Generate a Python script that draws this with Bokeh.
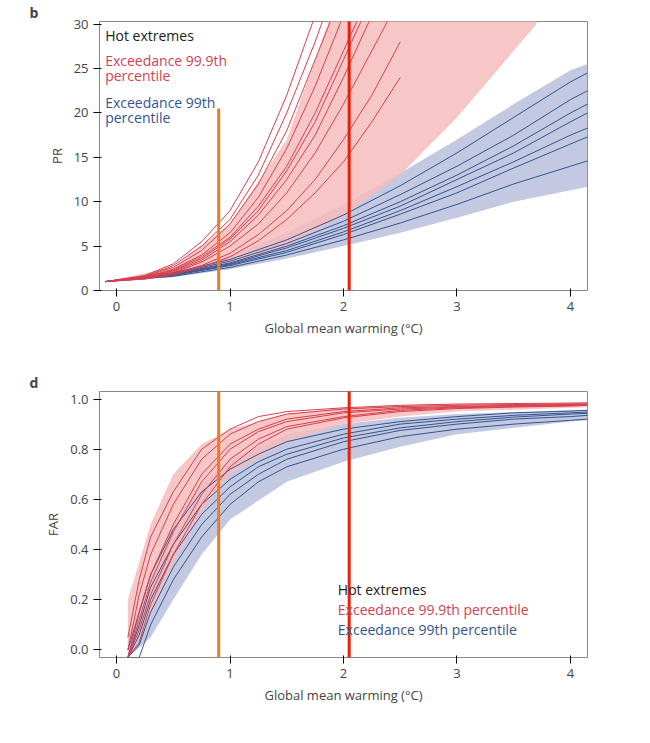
from bokeh.plotting import figure
from bokeh.layouts import column
from bokeh.models import Label, Range1d, CustomJSTickFormatter
from bokeh.embed import file_html
from bokeh.resources import INLINE

RED = "#d6404e"; RED_BAND = "#f6bcbc"
BLUE = "#34548f"; BLUE_BAND = "#b9c0da"
FONT = "Open Sans"

# ---- Panel b: PR ----
pr_red_x = [-0.1, 0.25, 0.5, 0.75, 1.0, 1.25, 1.5, 1.75, 2.0, 2.25, 2.5]
pr_red = [
    [1, 1.5, 2.3, 3.8, 6, 9.5, 14, 20, 27, 34, 40],
    [1, 1.6, 2.6, 4.5, 7.5, 12, 18, 26, 34, 40, 45],
    [1, 1.4, 2.0, 3.2, 5, 7.5, 11, 15.5, 21, 27, 33],
    [1, 1.7, 3, 5.5, 9, 14.5, 22, 31, 40, 45, 50],
    [1, 1.3, 1.9, 2.8, 4.2, 6.3, 9, 12.5, 17, 22, 28],
    [1, 1.5, 2.4, 4, 6.5, 10.5, 16, 23, 31, 38, 44],
    [1, 1.4, 2.1, 3.4, 5.5, 8.5, 12.5, 17.5, 24, 31, 38],
    [1, 1.6, 2.8, 5, 8, 13, 20, 28, 37, 43, 48],
    [1, 1.3, 1.8, 2.6, 3.8, 5.6, 8, 11, 14.5, 19, 24],
    [1, 1.45, 2.2, 3.6, 5.8, 9, 13.5, 19, 26, 33, 39],
]
pr_blue_x = [-0.1, 0.5, 1.0, 1.5, 2.0, 2.5, 3.0, 3.5, 4.0, 4.15]
pr_blue = [
    [1, 1.8, 3, 4.8, 7, 9.5, 12.5, 15.5, 19, 20],
    [1, 1.7, 2.8, 4.3, 6.3, 8.6, 11, 13.8, 16.5, 17.3],
    [1, 1.9, 3.3, 5.3, 7.8, 10.8, 14, 17.5, 21.5, 22.5],
    [1, 1.6, 2.6, 4, 5.7, 7.6, 9.7, 12, 14, 14.6],
    [1, 2, 3.5, 5.7, 8.5, 11.8, 15.5, 19.5, 23.5, 24.5],
    [1, 1.75, 2.9, 4.5, 6.6, 9, 11.7, 14.5, 17.5, 18.3],
    [1, 1.85, 3.1, 5, 7.3, 10, 13, 16.3, 20, 21],
]
pr_red_band_x = [-0.1, 0.5, 1.0, 1.5, 2.0, 2.5, 3.0, 3.5, 3.7]
pr_red_band_lo = [1, 1.6, 2.8, 5, 8.5, 13, 19.5, 27, 30]
pr_red_band_hi = [1, 2.6, 7.5, 17, 35, 45, 55, 60, 62]
pr_blue_band_x = [-0.1, 0.5, 1.0, 1.5, 2.0, 2.5, 3.0, 3.5, 4.0, 4.15]
pr_blue_band_lo = [1, 1.5, 2.4, 3.6, 5, 6.5, 8.2, 10, 11.3, 11.7]
pr_blue_band_hi = [1, 2.1, 3.9, 6.5, 9.7, 13.2, 17, 21, 24.8, 25.5]

# ---- Panel d: FAR ----
far_x = [0.1, 0.2, 0.3, 0.5, 0.75, 1.0, 1.25, 1.5, 2.0, 2.5, 3.0, 3.5, 4.0, 4.15]
far_red = [
    [-0.03, 0.15, 0.3, 0.5, 0.7, 0.82, 0.88, 0.92, 0.95, 0.965, 0.97, 0.975, 0.978, 0.98],
    [0.0, 0.22, 0.38, 0.58, 0.76, 0.86, 0.91, 0.94, 0.96, 0.97, 0.975, 0.978, 0.98, 0.98],
    [-0.03, 0.08, 0.22, 0.42, 0.62, 0.76, 0.84, 0.89, 0.93, 0.955, 0.965, 0.97, 0.975, 0.977],
    [0.05, 0.28, 0.45, 0.63, 0.8, 0.88, 0.93, 0.95, 0.965, 0.975, 0.98, 0.982, 0.984, 0.985],
    [-0.03, 0.12, 0.27, 0.47, 0.67, 0.8, 0.87, 0.91, 0.945, 0.96, 0.968, 0.973, 0.976, 0.978],
    [-0.03, 0.03, 0.18, 0.38, 0.58, 0.73, 0.82, 0.88, 0.925, 0.95, 0.962, 0.968, 0.972, 0.975],
]
far_blue = [
    [-0.03, 0.1, 0.25, 0.42, 0.58, 0.68, 0.75, 0.8, 0.86, 0.9, 0.92, 0.935, 0.945, 0.948],
    [-0.03, 0.02, 0.15, 0.33, 0.5, 0.62, 0.7, 0.76, 0.83, 0.875, 0.9, 0.92, 0.93, 0.935],
    [0.0, 0.15, 0.3, 0.48, 0.63, 0.72, 0.78, 0.83, 0.88, 0.91, 0.93, 0.945, 0.952, 0.955],
    [-0.03, 0.06, 0.2, 0.38, 0.54, 0.65, 0.73, 0.78, 0.845, 0.885, 0.91, 0.928, 0.94, 0.943],
    [-0.03, -0.03, 0.1, 0.28, 0.45, 0.58, 0.67, 0.73, 0.8, 0.85, 0.88, 0.9, 0.915, 0.92],
]
far_band_x = [0.1, 0.3, 0.5, 0.75, 1.0, 1.5, 2.0, 2.5, 3.0, 4.0, 4.15]
far_red_lo = [-0.03, 0.15, 0.35, 0.55, 0.7, 0.83, 0.9, 0.93, 0.95, 0.965, 0.967]
far_red_hi = [0.2, 0.5, 0.7, 0.82, 0.88, 0.94, 0.965, 0.975, 0.98, 0.985, 0.985]
far_blue_lo = [-0.03, 0.05, 0.2, 0.38, 0.52, 0.67, 0.75, 0.81, 0.86, 0.91, 0.915]
far_blue_hi = [0.05, 0.3, 0.5, 0.66, 0.76, 0.86, 0.9, 0.925, 0.94, 0.955, 0.957]

orange_x = 0.9
red_x = 2.05


def style(p, letter):
    p.xgrid.visible = False
    p.ygrid.visible = False
    p.outline_line_color = "#888888"
    for ax in (p.xaxis[0], p.yaxis[0]):
        ax.axis_label_text_font = FONT
        ax.axis_label_text_font_style = "normal"
        ax.axis_label_text_font_size = "13px"
        ax.major_label_text_font = FONT
        ax.major_label_text_font_size = "13px"
        ax.minor_tick_line_color = None
        ax.axis_line_color = None
    p.xaxis.ticker = [0, 1, 2, 3, 4]
    p.xaxis.axis_label = "Global mean warming (°C)"
    p.title.text = letter
    p.title.align = "left"
    p.title.offset = -70
    p.title.standoff = 0
    p.title.text_font = FONT
    p.title.text_font_size = "14px"
    p.title.text_font_style = "bold"


W = 634
p1 = figure(width=W, height=370, output_backend="svg", toolbar_location=None,
            x_range=Range1d(-0.15, 4.15), y_range=Range1d(0, 30.3),
            min_border_left=99, min_border_right=47, min_border_top=0, min_border_bottom=80)
style(p1, "b")
p1.yaxis.axis_label = "PR"
p1.yaxis.ticker = [0, 5, 10, 15, 20, 25, 30]
p1.varea(pr_blue_band_x, pr_blue_band_lo, pr_blue_band_hi, fill_color=BLUE_BAND, fill_alpha=0.85)
p1.varea(pr_red_band_x, pr_red_band_lo, pr_red_band_hi, fill_color=RED_BAND, fill_alpha=0.85)
for ys in pr_blue:
    p1.line(pr_blue_x, ys, line_color=BLUE, line_width=1)
for ys in pr_red:
    p1.line(pr_red_x, ys, line_color=RED, line_width=1)
p1.segment([orange_x], [0], [orange_x], [20.5], line_color="#f07a20", line_width=3)
p1.segment([red_x], [0], [red_x], [40], line_color="#e8200a", line_width=3)
for txt, y, c in [("Hot extremes", 29.8, "#222222"), ("Exceedance 99.9th", 27.0, RED),
                  ("percentile", 25.3, RED), ("Exceedance 99th", 22.3, BLUE), ("percentile", 20.6, BLUE)]:
    p1.add_layout(Label(x=-0.1, y=y, text=txt, text_color=c, text_font=FONT,
                        text_font_size="14px", text_baseline="top"))

p2 = figure(width=W, height=357, output_backend="svg", toolbar_location=None,
            x_range=Range1d(-0.15, 4.15), y_range=Range1d(-0.03, 1.03),
            min_border_left=99, min_border_right=47, min_border_top=0, min_border_bottom=70)
style(p2, "d")
p2.yaxis.axis_label = "FAR"
p2.yaxis.ticker = [0, 0.2, 0.4, 0.6, 0.8, 1.0]
p2.yaxis.formatter = CustomJSTickFormatter(code="return tick.toFixed(1);")
p2.varea(far_band_x, far_blue_lo, far_blue_hi, fill_color=BLUE_BAND, fill_alpha=0.85)
p2.varea(far_band_x, far_red_lo, far_red_hi, fill_color=RED_BAND, fill_alpha=0.85)
for ys in far_blue:
    p2.line(far_x, ys, line_color=BLUE, line_width=1)
for ys in far_red:
    p2.line(far_x, ys, line_color=RED, line_width=1)
p2.segment([orange_x], [-0.2], [orange_x], [1.2], line_color="#f07a20", line_width=3)
p2.segment([red_x], [-0.2], [red_x], [1.2], line_color="#e8200a", line_width=3)
for txt, y, c in [("Hot extremes", 0.28, "#222222"), ("Exceedance 99.9th percentile", 0.2, RED),
                  ("Exceedance 99th percentile", 0.12, BLUE)]:
    p2.add_layout(Label(x=1.95, y=y, text=txt, text_color=c, text_font=FONT,
                        text_font_size="14px", text_baseline="top"))

layout = column(p1, p2, spacing=0)
open("out.html", "w").write(file_html(layout, INLINE))
